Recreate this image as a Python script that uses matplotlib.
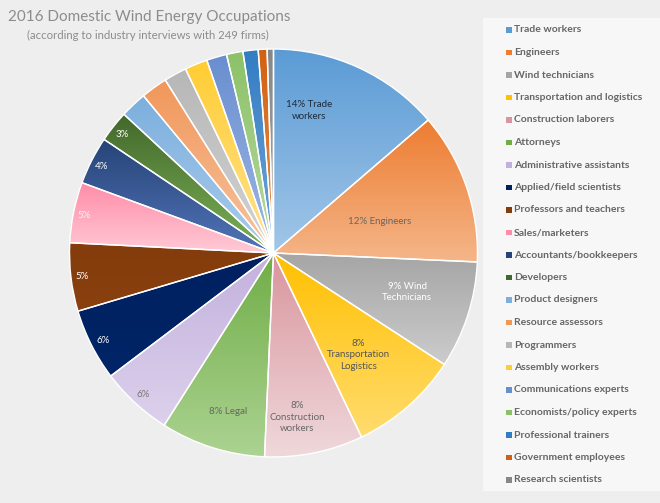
import numpy as np
import matplotlib
matplotlib.use("Agg")
import matplotlib.pyplot as plt
from matplotlib.colors import LinearSegmentedColormap

plt.rcParams['font.family'] = ['Lato', 'DejaVu Sans']

# ---------------- data ----------------
categories = ["Trade workers", "Engineers", "Wind technicians", "Transportation and logistics",
              "Construction laborers", "Attorneys", "Administrative assistants",
              "Applied/field scientists", "Professors and teachers", "Sales/marketers",
              "Accountants/bookkeepers", "Developers", "Product designers", "Resource assessors",
              "Programmers", "Assembly workers", "Communications experts",
              "Economists/policy experts", "Professional trainers", "Government employees",
              "Research scientists"]
shares = [13.7, 12.0, 8.5, 8.7, 7.8, 8.3, 5.7, 5.7, 5.4, 4.8, 3.8, 2.5, 2.1, 2.1,
          1.8, 1.8, 1.6, 1.3, 1.2, 0.7, 0.5]
slice_labels = ["14% Trade\nworkers", "12% Engineers", "9% Wind\nTechnicians",
                "8%\nTransportation\nLogistics", "8%\nConstruction\nworkers", "8% Legal",
                "6%", "6%", "5%", "5%", "4%", "3%"]

title = "2016 Domestic Wind Energy Occupations"
subtitle = "(according to industry interviews with 249 firms)"

# ---------------- styles ----------------
top_colors = ["#5B9BD5", "#ED7D31", "#A5A5A5", "#FFC000", "#D9959D", "#70AD47", "#C3B1DD",
              "#002060", "#843C0C", "#FF8CA8", "#264478", "#43682B", "#7CAFDD", "#F1975A",
              "#B7B7B7", "#FFCD33", "#698ED0", "#8CC168", "#327DC2", "#D26012", "#878787"]
bottom_colors = ["#A2C6E8", "#F5B68A", "#CCCCCC", "#FFDC6E", "#EFD8DB", "#ACD392", "#DCD1EC",
                 "#002567", "#8A400F", "#FFCAD6", "#5274B8", "#7BB257", "#ABCCEB", "#F7C4A0",
                 "#D3D3D3", "#FFE290", "#A0B8E3", "#B7DAA2", "#73A6D8", "#E29652", "#A9A9A9"]
label_colors = ["#1F2A3A", "#666666", "#FFFFFF", "#555555", "#666666", "#666666", "#777777",
                "#FFFFFF", "#FFFFFF", "#F4F4F4", "#FFFFFF", "#FFFFFF"]
label_pos = [(0.173, 0.698), (0.520, 0.156), (0.656, -0.190), (0.417, -0.498),
             (0.115, -0.805), (-0.222, -0.776), (-0.637, -0.693), (-0.837, -0.429),
             (-0.939, -0.117), (-0.929, 0.185), (-0.841, 0.424), (-0.744, 0.580)]

W, H = 660, 503
fig = plt.figure(figsize=(W / 100, H / 100), dpi=100)
fig.patch.set_facecolor("#EEEEEE")

cx, cy, R = 273.5, 253, 205
ax = fig.add_axes([(cx - R) / W, (H - cy - R) / H, 2 * R / W, 2 * R / H])
ax.axis("off")

wedges, _ = ax.pie(shares, startangle=90, counterclock=False, colors=top_colors,
                   radius=1.0, center=(0, 0),
                   wedgeprops=dict(edgecolor="white", linewidth=1.0))

grad = np.linspace(0, 1, 256).reshape(-1, 1)
for w, ct, cb in zip(wedges, top_colors, bottom_colors):
    t = np.radians(np.linspace(w.theta1, w.theta2, 100))
    xs = np.concatenate([[0], np.cos(t)])
    ys = np.concatenate([[0], np.sin(t)])
    cmap = LinearSegmentedColormap.from_list("g", [ct, cb])
    im = ax.imshow(grad, cmap=cmap, extent=[xs.min(), xs.max(), ys.min(), ys.max()],
                   origin="upper", aspect="auto", zorder=w.get_zorder() + 0.1,
                   interpolation="bilinear")
    im.set_clip_path(w)
    w.set_facecolor("none")
    w.set_zorder(w.get_zorder() + 0.2)
ax.set_xlim(-1.005, 1.005)
ax.set_ylim(-1.005, 1.005)

for txt, (x, y), c in zip(slice_labels, label_pos, label_colors):
    ax.text(x, y, txt, ha="center", va="center", fontsize=7, color=c,
            linespacing=1.35, zorder=10)

# title
fig.text(8 / W, 1 - 17 / H, title, fontsize=11, color="#8C8C8C", ha="left", va="center")
fig.text(148 / W, 1 - 35 / H, subtitle, fontsize=8.2, color="#8C8C8C", ha="center", va="center")

# legend
lax = fig.add_axes([483 / W, 1 - 491 / H, (W - 483) / W, (491 - 18) / H])
lax.set_xlim(483, W)
lax.set_ylim(491, 18)
lax.set_facecolor("#F7F7F7")
for s in lax.spines.values():
    s.set_visible(False)
lax.set_xticks([])
lax.set_yticks([])
for i, (name, c) in enumerate(zip(categories, top_colors)):
    y = 30 + i * 22.5
    lax.scatter([509], [y], marker="s", s=14, color=c, edgecolors="none")
    lax.text(514, y, name, fontsize=7.5, color="#666666", ha="left", va="center",
             fontweight="bold")

fig.savefig("out.png", dpi=100, facecolor=fig.get_facecolor())
